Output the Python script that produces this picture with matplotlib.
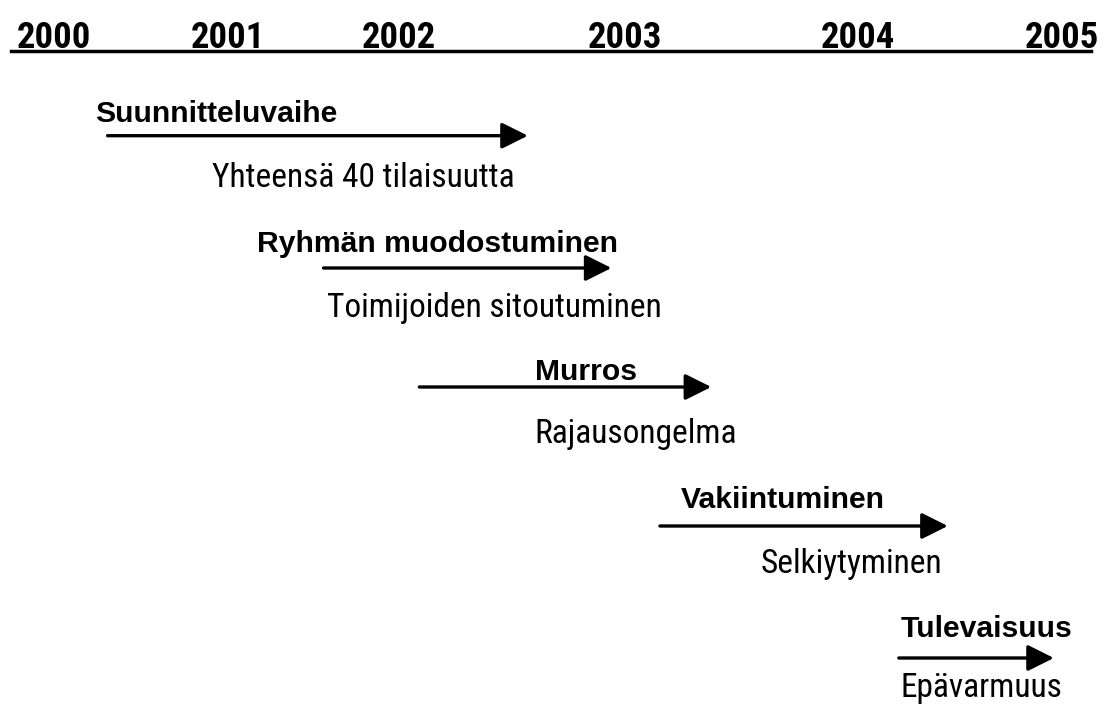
import numpy as np
import matplotlib
matplotlib.use("Agg")
import matplotlib.pyplot as plt
from matplotlib import font_manager
from matplotlib.font_manager import FontProperties
from matplotlib.patches import FancyArrowPatch, ArrowStyle

# ---------------- data ----------------
years = [2000, 2001, 2002, 2003, 2004, 2005]
year_labels = ["2000", "2001", "2002", "2003", "2004", "2005"]

phases = ["Suunnitteluvaihe", "Ryhmän muodostuminen", "Murros",
          "Vakiintuminen", "Tulevaisuus"]
descriptions = ["Yhteensä 40 tilaisuutta", "Toimijoiden sitoutuminen",
                "Rajausongelma", "Selkiytyminen", "Epävarmuus"]
phase_start = [2000.31, 2001.56, 2002.09, 2003.15, 2004.20]
phase_end = [2002.57, 2002.94, 2003.37, 2004.44, 2004.96]

# ---------------- layout (positions only) ----------------
year_px = [53.7, 227.5, 399.0, 625.0, 858.0, 1062.0]   # uneven timeline scale
row_y = [135.7, 268, 387, 526, 658]                     # arrow rows (px from top)
title_x = [2000.24, 2001.17, 2002.60, 2003.24, 2004.21]
title_base = [122, 252, 380, 508, 637]
desc_x = [2000.91, 2001.58, 2002.60, 2003.58, 2004.21]
desc_base = [187, 317, 443, 573, 697]

W, H = 1104, 706
line_y = 50.7
x_left, x_right = 11, 1091

# ---------------- fonts ----------------
fonts = {}
for f in font_manager.fontManager.ttflist:
    fonts.setdefault(f.name, set()).add(f.weight if isinstance(f.weight, int) else 400)

cands = ["Liberation Sans Narrow", "Roboto Condensed", "Archivo Narrow",
         "PT Sans Narrow", "Pragati Narrow", "Asap Condensed", "Liberation Sans"]


def pick(bold):
    for c in cands:
        if c in fonts:
            ws = fonts[c]
            if bold and max(ws) < 600:
                continue
            if not bold and min(ws) > 450:
                continue
            return c
    return "Liberation Sans"


year_family = pick(True)
desc_family = pick(False)
title_family = "Liberation Sans"

yr = np.array(years, float)
px = np.array(year_px, float)


def fwd(v):
    v = np.asarray(v, float)
    out = np.interp(v, yr, px)
    lo = px[0] + (v - yr[0]) * (px[1] - px[0])
    hi = px[-1] + (v - yr[-1]) * (px[-1] - px[-2])
    return np.where(v < yr[0], lo, np.where(v > yr[-1], hi, out))


def inv(p):
    p = np.asarray(p, float)
    out = np.interp(p, px, yr)
    lo = yr[0] + (p - px[0]) / (px[1] - px[0])
    hi = yr[-1] + (p - px[-1]) / (px[-1] - px[-2])
    return np.where(p < px[0], lo, np.where(p > px[-1], hi, out))


fig = plt.figure(figsize=(W / 100, H / 100), dpi=100)
renderer = fig.canvas.get_renderer()


def fit_size(text, family, weight, target_px, size0=20.0):
    t = fig.text(0, 0, text, family=family, weight=weight, size=size0)
    w = t.get_window_extent(renderer).width
    t.remove()
    return size0 * target_px / w


year_size = fit_size("2000", year_family, "bold", 74)
desc_size = fit_size("Toimijoiden sitoutuminen", desc_family, "normal", 334)
title_size = 21.7

ax = fig.add_axes([x_left / W, 0, (x_right - x_left) / W, (H - line_y) / H])
ax.set_xscale("function", functions=(fwd, inv))
ax.set_xlim(float(inv(x_left)), float(inv(x_right)))
ax.set_ylim(H, line_y)

for s in ("left", "right", "bottom"):
    ax.spines[s].set_visible(False)
ax.spines["top"].set_linewidth(2.5)
ax.set_yticks([])
ax.xaxis.tick_top()
ax.set_xticks(years)
ax.set_xticklabels(year_labels, family=year_family, weight="bold", size=year_size)
ax.tick_params(axis="x", length=0, pad=1.6, top=True, labeltop=True,
               bottom=False, labelbottom=False)
ax.xaxis.set_minor_locator(matplotlib.ticker.NullLocator())
for t in ax.xaxis.get_major_ticks():
    t.label2.set_verticalalignment("baseline")

style = ArrowStyle("-|>", head_length=16, head_width=8)
for i in range(len(phases)):
    arr = FancyArrowPatch((phase_start[i], row_y[i]), (phase_end[i], row_y[i]),
                          arrowstyle=style, mutation_scale=1, lw=2.4,
                          color="black", shrinkA=0, shrinkB=0)
    ax.add_patch(arr)
    ax.text(title_x[i], title_base[i], phases[i], ha="left", va="baseline",
            color="black", family=title_family, weight="bold", size=title_size)
    ax.text(desc_x[i], desc_base[i], descriptions[i], ha="left", va="baseline",
            color="black", family=desc_family, size=desc_size)

fig.savefig("out.png", dpi=100)
